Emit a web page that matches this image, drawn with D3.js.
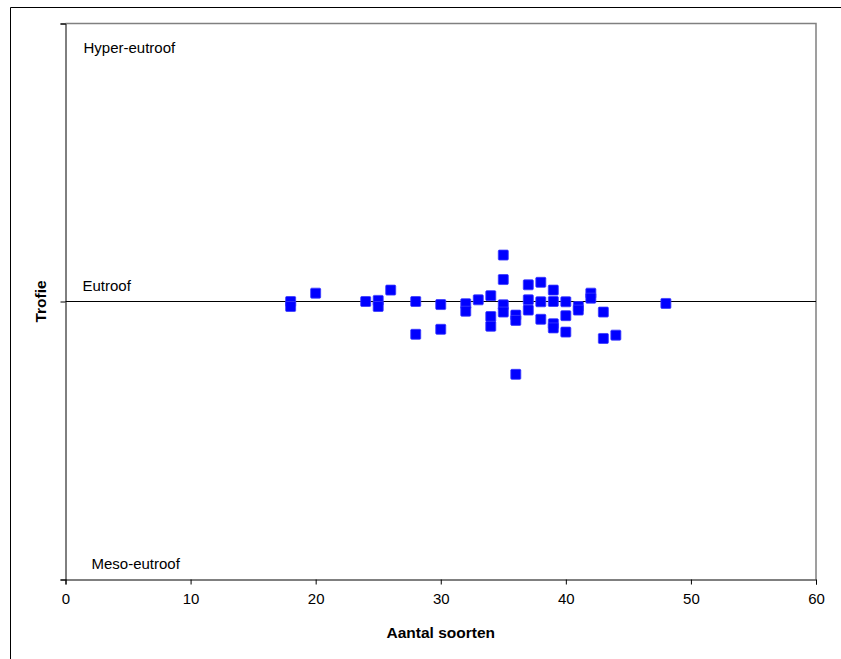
<!DOCTYPE html>
<html>
<head>
<meta charset="utf-8">
<script src="https://cdn.jsdelivr.net/npm/d3@7"></script>
<style>
  html, body { margin: 0; padding: 0; background: #fff; }
  svg { display: block; }
  text { font-family: "Liberation Sans", Arial, sans-serif; }
</style>
</head>
<body>
<svg id="chart" width="841" height="659"></svg>
<script>
// Data: number of species (x) vs trophic level (0 = meso-eutroof, 1 = eutroof, 2 = hyper-eutroof)
const soorten = [18, 18, 20, 24, 25, 25, 26, 28, 28, 30, 30, 32, 32, 33, 34, 34, 34,
  35, 35, 35, 35, 36, 36, 36, 37, 37, 37, 38, 38, 38, 39, 39, 39, 39,
  40, 40, 40, 41, 41, 42, 42, 43, 43, 44, 48];
const trofie = [1.0, 0.982, 1.030, 1.0, 1.004, 0.982, 1.041, 1.0, 0.882, 0.989, 0.900,
  0.992, 0.965, 1.006, 1.021, 0.946, 0.911,
  1.167, 1.079, 0.988, 0.962, 0.951, 0.932, 0.738, 1.060, 1.006, 0.969,
  1.069, 0.999, 0.936, 1.041, 1.0, 0.920, 0.905,
  0.999, 0.949, 0.890, 0.982, 0.969, 1.030, 1.012, 0.962, 0.867, 0.879, 0.993];
const xTicks = [0, 10, 20, 30, 40, 50, 60];
const yTicks = [0, 1, 2];
const yLabels = ["Meso-eutroof", "Eutroof", "Hyper-eutroof"];
const xTitle = "Aantal soorten";
const yTitle = "Trofie";

const svg = d3.select("#chart");
const pLeft = 65.5, pRight = 816, pTop = 23.5, pBottom = 579.5;

const x = d3.scaleLinear().domain([0, 60]).range([pLeft, pRight]);
const y = d3.scaleLinear().domain([0, 2]).range([pBottom, pTop]);

// outer frame (top and left edges visible)
svg.append("line").attr("x1", 10.5).attr("x2", 841).attr("y1", 7.5).attr("y2", 7.5)
  .attr("stroke", "#000").attr("stroke-width", 1);
svg.append("line").attr("x1", 10.5).attr("x2", 10.5).attr("y1", 7.5).attr("y2", 659)
  .attr("stroke", "#000").attr("stroke-width", 1);

// plot area border (gray top and right)
svg.append("path")
  .attr("d", `M${pLeft},${pTop}H${pRight}V${pBottom}`)
  .attr("fill", "none").attr("stroke", "#808080").attr("stroke-width", 1.5);

// eutroof reference line
svg.append("line")
  .attr("x1", pLeft).attr("x2", pRight)
  .attr("y1", y(1)).attr("y2", y(1))
  .attr("stroke", "#000").attr("stroke-width", 1);

// X axis
const xAxis = svg.append("g")
  .attr("transform", `translate(0,${pBottom})`)
  .call(d3.axisBottom(x).tickValues(xTicks).tickSize(5).tickPadding(9).tickFormat(d3.format("d")));
xAxis.select(".domain").attr("stroke", "#000");
xAxis.selectAll(".tick line").attr("stroke", "#000");
xAxis.selectAll(".tick text")
  .attr("font-family", "'Liberation Sans', Arial, sans-serif")
  .attr("font-size", 15).attr("fill", "#000");

// Y axis (ticks only, labels inside plot)
const yAxis = svg.append("g")
  .attr("transform", `translate(${pLeft},0)`)
  .call(d3.axisLeft(y).tickValues(yTicks).tickSize(5).tickFormat(""));
yAxis.select(".domain").attr("stroke", "#000");
yAxis.selectAll(".tick line").attr("stroke", "#000");

// Trophic labels inside plot
const labelPos = [
  { dx: 26, dy: -11 },
  { dx: 17, dy: -11 },
  { dx: 18, dy: 29 }
];
svg.selectAll("text.tlabel")
  .data(yTicks)
  .join("text")
  .attr("class", "tlabel")
  .attr("x", (d, i) => pLeft + labelPos[i].dx)
  .attr("y", (d, i) => y(d) + labelPos[i].dy)
  .attr("font-size", 15)
  .attr("fill", "#000")
  .text((d, i) => yLabels[i]);

// points
const pts = soorten.map((s, i) => ({ s, t: trofie[i] }));
const sz = 10;
svg.append("g").selectAll("rect")
  .data(pts)
  .join("rect")
  .attr("x", d => x(d.s) - sz / 2)
  .attr("y", d => y(d.t) - sz / 2)
  .attr("width", sz).attr("height", sz)
  .attr("rx", 1)
  .attr("fill", "#0000ff")
  .attr("stroke", "#3a3aff").attr("stroke-width", 0.8);

// Axis titles
svg.append("text")
  .attr("x", (pLeft + pRight) / 2).attr("y", 638)
  .attr("text-anchor", "middle")
  .attr("font-size", 15.5).attr("font-weight", "bold")
  .text(xTitle);

svg.append("text")
  .attr("transform", `translate(46,${y(1)}) rotate(-90)`)
  .attr("text-anchor", "middle")
  .attr("font-size", 15.5).attr("font-weight", "bold")
  .text(yTitle);
</script>
</body>
</html>
